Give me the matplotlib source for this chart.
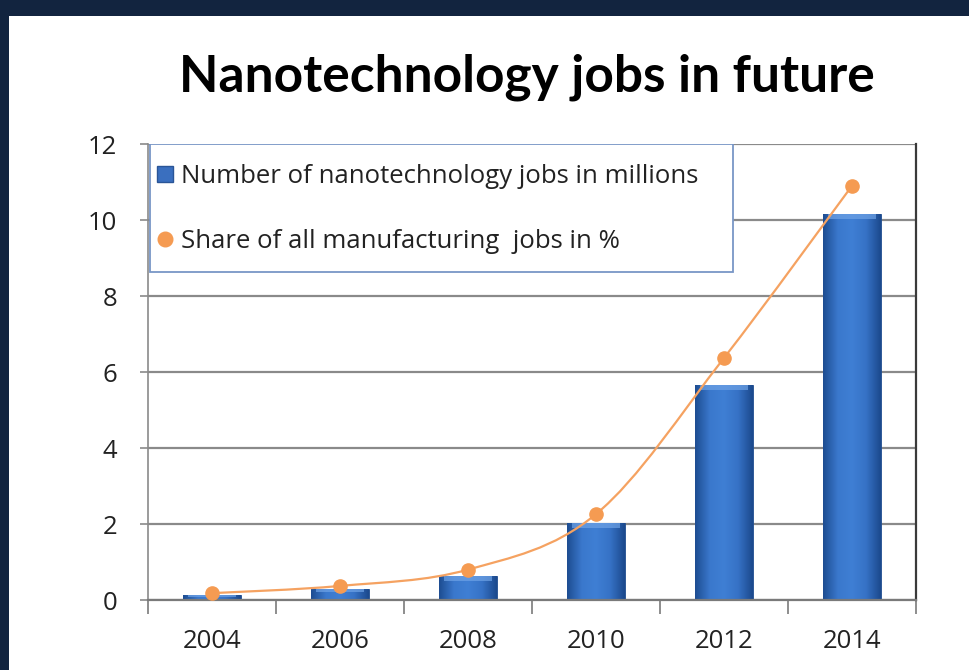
import numpy as np
import matplotlib
matplotlib.use("Agg")
import matplotlib.pyplot as plt
from matplotlib.path import Path
from matplotlib.patches import PathPatch, Rectangle
from matplotlib.lines import Line2D
from matplotlib.colors import LinearSegmentedColormap

years = ["2004", "2006", "2008", "2010", "2012", "2014"]
jobs_millions = [0.13, 0.3, 0.63, 2.02, 5.65, 10.15]
share_pct = [0.18, 0.37, 0.8, 2.26, 6.37, 10.9]

title = "Nanotechnology jobs in future"
label_bars = "Number of nanotechnology jobs in millions"
label_line = "Share of all manufacturing  jobs in %"

plt.rcParams['font.family'] = ['Open Sans', 'DejaVu Sans']

fig = plt.figure(figsize=(9.7, 6.7), dpi=100)
fig.patch.set_facecolor('#12243f')
# white slide panel
fig.patches.append(Rectangle((9/970, 0), 1, 1 - 16/670, transform=fig.transFigure,
                             facecolor='white', edgecolor='none', zorder=-5))

ax = fig.add_axes([148/970, 70/670, 768/970, 456/670])
ax.set_facecolor('white')
x = np.arange(len(years))

# gridlines
ax.set_yticks(np.arange(0, 13, 2))
ax.yaxis.grid(True, color='#8a8a8a', linewidth=1.6)
ax.set_axisbelow(True)

# bars with horizontal gradient
cmap = LinearSegmentedColormap.from_list('bar', ['#1e4d92', '#3a78cc', '#3f7fd4', '#3672c6', '#1c4a8e'])
grad = np.linspace(0, 1, 64).reshape(1, -1)
bars = ax.bar(x, jobs_millions, width=0.45, color='#3370c4', edgecolor='#1f4b8c', linewidth=0.6, zorder=2)
for b in bars:
    x0, y0 = b.get_x(), b.get_y()
    w, h = b.get_width(), b.get_height()
    im = ax.imshow(grad, cmap=cmap, aspect='auto', extent=(x0, x0 + w, y0, y0 + h), zorder=2.1)
    im.set_clip_path(b)
    # light bevel at the top
    ax.add_patch(Rectangle((x0 + w * 0.08, y0 + h - min(0.12, h * 0.3)), w * 0.84, min(0.12, h * 0.3),
                           facecolor='#6fa3e6', edgecolor='none', alpha=0.7, zorder=2.2))
ax.set_xlim(-0.5, len(years) - 0.5)
ax.set_ylim(0, 12)

# smoothed line (Catmull-Rom to Bezier through the data points)
px = list(x.astype(float))
py = list(share_pct)
verts = [(px[0], py[0])]
codes = [Path.MOVETO]
n = len(px)
for i in range(n - 1):
    p0 = (px[i - 1], py[i - 1]) if i > 0 else (px[i], py[i])
    p1 = (px[i], py[i])
    p2 = (px[i + 1], py[i + 1])
    p3 = (px[i + 2], py[i + 2]) if i + 2 < n else (px[i + 1], py[i + 1])
    c1 = (p1[0] + (p2[0] - p0[0]) / 6, p1[1] + (p2[1] - p0[1]) / 6)
    c2 = (p2[0] - (p3[0] - p1[0]) / 6, p2[1] - (p3[1] - p1[1]) / 6)
    verts += [c1, c2, p2]
    codes += [Path.CURVE4] * 3
ax.add_patch(PathPatch(Path(verts, codes), facecolor='none', edgecolor='#f5a261', linewidth=1.6, zorder=3))
ax.plot(x, share_pct, linestyle='none', marker='o', markersize=9.5, color='#f59b52', zorder=4)

# axes styling
ax.spines['top'].set_visible(False)
ax.spines['left'].set_color('#8a8a8a')
ax.spines['bottom'].set_color('#7a7a7a')
ax.spines['right'].set_color('#3a3a3a')
ax.spines['left'].set_linewidth(1.2)
ax.spines['bottom'].set_linewidth(1.6)
ax.spines['right'].set_linewidth(1.6)

ax.set_xticks(x)
ax.set_xticklabels(years)
ax.tick_params(axis='x', length=0, pad=21, labelsize=18.5, labelcolor='#222222')
ax.set_xticks(np.arange(-0.5, len(years), 1), minor=True)
ax.tick_params(axis='x', which='minor', length=10, width=1.2, color='#7a7a7a')
ax.tick_params(axis='y', length=6, width=1.2, color='#8a8a8a', pad=16, labelsize=18.5, labelcolor='#222222')

# legend box drawn separately so its size matches
ax.add_patch(Rectangle((2/768, 328/456), 583/768, 128/456, transform=ax.transAxes,
                       facecolor='white', edgecolor='#7896c6', linewidth=1.3, zorder=4.5))
handles = [Line2D([], [], linestyle='none', marker='s', markersize=11, markerfacecolor='#3a6fbf',
                  markeredgecolor='#2a5597'),
           Line2D([], [], linestyle='none', marker='o', markersize=10.5, color='#f59b52')]
leg = ax.legend(handles, [label_bars, label_line], loc='center left', bbox_to_anchor=(6/768, 391/456),
                frameon=False, fontsize=18.5, labelspacing=1.53, handletextpad=0.2,
                handlelength=0.85, borderpad=0.0, borderaxespad=0.0)
for t in leg.get_texts():
    t.set_color('#222222')
leg.set_zorder(5)

fig.text(0.543, 0.884, title, ha='center', va='center', fontsize=37, fontweight='bold',
         color='black', family=['Lato', 'DejaVu Sans'])

fig.savefig('out.png', dpi=100, facecolor=fig.get_facecolor())
